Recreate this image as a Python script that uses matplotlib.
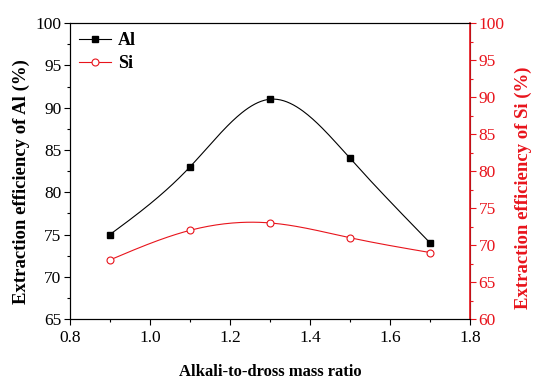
import matplotlib.pyplot as plt
import numpy as np
from matplotlib.ticker import MultipleLocator

# data
ratio = [0.9, 1.1, 1.3, 1.5, 1.7]
al_eff = [75, 83, 91, 84, 74]
si_eff = [68, 72, 73, 71, 69]


def spline(x, y, n=200):
    # natural cubic spline, only used to draw the smooth connecting line
    x = np.asarray(x, float)
    y = np.asarray(y, float)
    h = np.diff(x)
    m = len(x)
    A = np.zeros((m, m))
    b = np.zeros(m)
    A[0, 0] = A[-1, -1] = 1
    for i in range(1, m - 1):
        A[i, i - 1] = h[i - 1]
        A[i, i] = 2 * (h[i - 1] + h[i])
        A[i, i + 1] = h[i]
        b[i] = 6 * ((y[i + 1] - y[i]) / h[i] - (y[i] - y[i - 1]) / h[i - 1])
    M = np.linalg.solve(A, b)
    xs = np.linspace(x[0], x[-1], n)
    idx = np.clip(np.searchsorted(x, xs) - 1, 0, m - 2)
    x0, x1 = x[idx], x[idx + 1]
    hh = x1 - x0
    ys = (M[idx] * (x1 - xs) ** 3 / (6 * hh) + M[idx + 1] * (xs - x0) ** 3 / (6 * hh)
          + (y[idx] / hh - M[idx] * hh / 6) * (x1 - xs)
          + (y[idx + 1] / hh - M[idx + 1] * hh / 6) * (xs - x0))
    return xs, ys


plt.rcParams['font.family'] = ['Liberation Serif', 'DejaVu Serif']
plt.rcParams['font.size'] = 12.5

fig = plt.figure(figsize=(5.5, 3.85), dpi=100)
ax = fig.add_axes([0.127, 0.171, 0.728, 0.769])
ax2 = ax.twinx()

red = '#e8141c'

xs, ys = spline(ratio, al_eff)
ax.plot(xs, ys, color='black', lw=0.8)
ax.plot(ratio, al_eff, 's', color='black', ms=4.5)
xs, ys = spline(ratio, si_eff)
ax2.plot(xs, ys, color=red, lw=0.8)
ax2.plot(ratio, si_eff, 'o', color=red, mfc='white', ms=5, mew=0.8)

# legend handles
h1, = ax.plot([], [], '-s', color='black', lw=0.8, ms=4.5)
h2, = ax.plot([], [], '-o', color=red, mfc='white', lw=0.8, ms=5, mew=0.8)
ax.legend([h1, h2], ['Al', 'Si'], loc='upper left', frameon=False,
          prop={'weight': 'bold', 'size': 13}, handlelength=1.8,
          handletextpad=0.35, borderaxespad=0.1, labelspacing=0.35)

ax.set_xlim(0.8, 1.8)
ax.set_ylim(65, 100)
ax2.set_ylim(60, 100)

ax.xaxis.set_major_locator(MultipleLocator(0.2))
ax.xaxis.set_minor_locator(MultipleLocator(0.1))
ax.yaxis.set_major_locator(MultipleLocator(5))
ax.yaxis.set_minor_locator(MultipleLocator(2.5))
ax2.yaxis.set_major_locator(MultipleLocator(5))
ax2.yaxis.set_minor_locator(MultipleLocator(2.5))
ax.xaxis.set_major_formatter(plt.FormatStrFormatter('%.1f'))

ax.tick_params(which='major', direction='out', length=4, width=0.8, top=False, pad=2)
ax.tick_params(axis='x', which='major', pad=3.5)
ax.tick_params(which='minor', direction='out', length=2.5, width=0.8, top=False)
ax2.tick_params(which='major', direction='out', length=4, width=0.8, colors=red, pad=2)
ax2.tick_params(which='minor', direction='out', length=2.5, width=0.8, colors=red)
ax2.spines['right'].set_color(red)
ax2.spines['right'].set_linewidth(1.2)

ax.set_xlabel('Alkali-to-dross mass ratio', fontweight='bold', fontsize=12, labelpad=13)
ax.set_ylabel('Extraction efficiency of Al (%)', fontweight='bold', fontsize=13.5)
ax2.set_ylabel('Extraction efficiency of Si (%)', fontweight='bold', fontsize=13.5,
               color=red)
ax.yaxis.set_label_coords(-0.1, 0.465)
ax2.yaxis.set_label_coords(1.11, 0.445)

fig.savefig('out.png', dpi=100)
